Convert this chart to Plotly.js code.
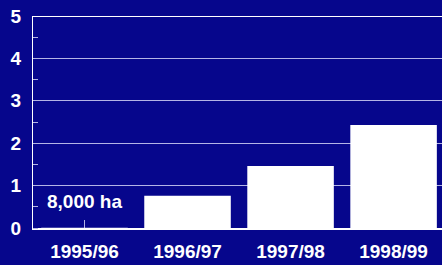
<!DOCTYPE html>
<html><head><meta charset="utf-8">
<script src="https://cdn.plot.ly/plotly-3.0.1.min.js"></script>
<style>html,body{margin:0;padding:0;background:#06068c;}</style>
</head><body>
<div id="chart" style="width:442px;height:265px;"></div>
<script>
const seasons = ["1995/96", "1996/97", "1997/98", "1998/99"];
const areaMillionHa = [0.008, 0.76, 1.46, 2.43];
const yTickVals = [0, 1, 2, 3, 4, 5];
const noteText = "8,000 ha";

const bg = "#06068c";
const fontSpec = {family: "Arial, Liberation Sans, sans-serif", size: 19, color: "#ffffff", weight: "bold"};

Plotly.newPlot("chart", [{
  type: "bar",
  x: seasons,
  y: areaMillionHa,
  width: 0.84,
  marker: {color: "#ffffff", line: {width: 0}},
  hoverinfo: "none"
}], {
  width: 442, height: 265,
  margin: {l: 33, r: 0, t: 16, b: 37, pad: 0},
  paper_bgcolor: bg, plot_bgcolor: bg,
  showlegend: false,
  font: fontSpec,
  xaxis: {
    type: "category",
    range: [-0.5, 3.47],
    showline: true, linecolor: "#ffffff", linewidth: 2, mirror: false,
    ticks: "inside", ticklen: 8, tickcolor: "#b4b4e6", tickwidth: 1,
    showgrid: false, zeroline: false,
    tickfont: fontSpec,
    ticklabelstandoff: 5,
    layer: "below traces",
    fixedrange: true
  },
  yaxis: {
    range: [0, 5],
    tickvals: yTickVals,
    ticktext: yTickVals.map(String),
    showline: true, linecolor: "#ffffff", linewidth: 1,
    ticks: "", showgrid: true, gridcolor: "#b4b4e6", gridwidth: 1,
    zeroline: false,
    minor: {dtick: 0.5, ticks: "inside", ticklen: 5, tickcolor: "#b4b4e6", tickwidth: 1, showgrid: false},
    tickfont: fontSpec,
    ticklabelstandoff: 7,
    layer: "below traces",
    fixedrange: true
  },
  shapes: [{
    type: "line", xref: "paper", yref: "y",
    x0: 0, x1: 1, y0: 5, y1: 5,
    line: {color: "#ffffff", width: 2}
  }],
  annotations: [{
    x: seasons[0], y: 0.62, xref: "x", yref: "y",
    text: noteText, showarrow: false,
    font: fontSpec, xanchor: "center", yanchor: "middle"
  }]
}, {staticPlot: true, displayModeBar: false});
</script>
</body></html>
